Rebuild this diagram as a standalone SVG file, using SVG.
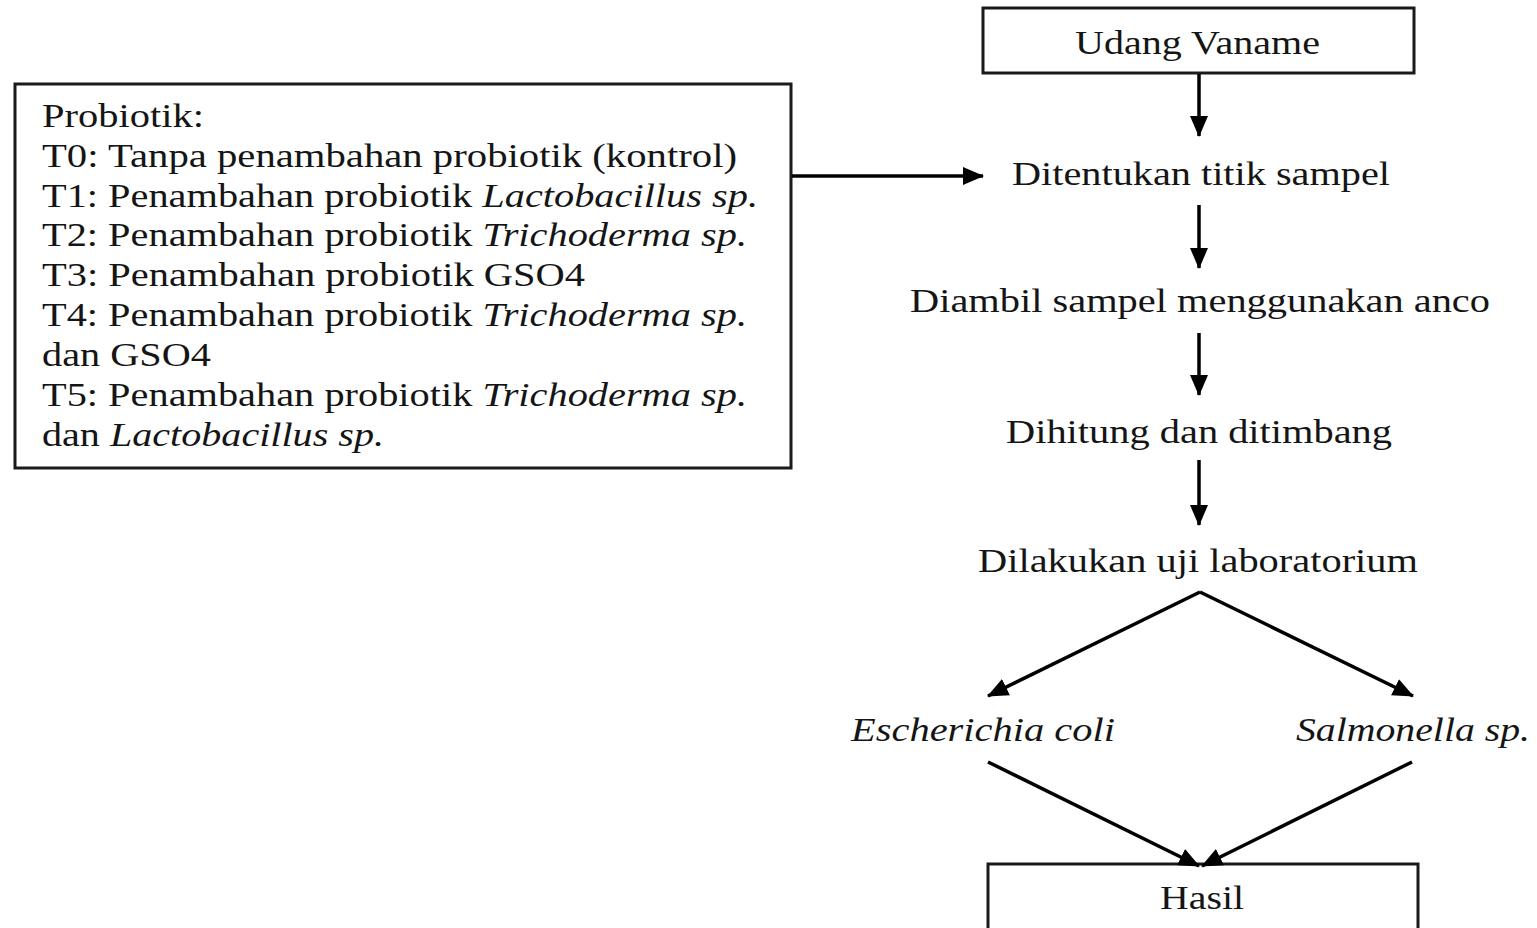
<svg xmlns="http://www.w3.org/2000/svg" width="1537" height="928" viewBox="0 0 1537 928" font-family="Liberation Serif">
<style>
text{font-family:'Liberation Serif',Tinos,Times,serif;font-size:34px;fill:#151515}
.i{font-style:italic}
.box{fill:#fff;stroke:#1a1a1a;stroke-width:3}
.ln{fill:none;stroke:#000;stroke-width:3.5}
</style>
<defs>
<marker id="ah" markerUnits="userSpaceOnUse" markerWidth="22" markerHeight="22" viewBox="0 0 22 22" refX="20" refY="11" orient="auto">
<path d="M0,2 L21,11 L0,20 Z" fill="#000"/>
</marker>
</defs>
<rect width="1537" height="928" fill="#fff"/>
<g id="probiotik">
<rect class="box" x="15" y="84" width="776" height="384"/>
<text x="42" y="127" textLength="162" lengthAdjust="spacingAndGlyphs">Probiotik:</text>
<text x="42" y="167" textLength="695" lengthAdjust="spacingAndGlyphs">T0: Tanpa penambahan probiotik (kontrol)</text>
<text x="42" y="207" textLength="716" lengthAdjust="spacingAndGlyphs">T1: Penambahan probiotik <tspan class="i">Lactobacillus sp.</tspan></text>
<text x="42" y="246" textLength="705" lengthAdjust="spacingAndGlyphs">T2: Penambahan probiotik <tspan class="i">Trichoderma sp.</tspan></text>
<text x="42" y="286" textLength="543" lengthAdjust="spacingAndGlyphs">T3: Penambahan probiotik GSO4</text>
<text x="42" y="326" textLength="705" lengthAdjust="spacingAndGlyphs">T4: Penambahan probiotik <tspan class="i">Trichoderma sp.</tspan></text>
<text x="42" y="366" textLength="169" lengthAdjust="spacingAndGlyphs">dan GSO4</text>
<text x="42" y="406" textLength="705" lengthAdjust="spacingAndGlyphs">T5: Penambahan probiotik <tspan class="i">Trichoderma sp.</tspan></text>
<text x="42" y="446" textLength="342" lengthAdjust="spacingAndGlyphs">dan <tspan class="i">Lactobacillus sp.</tspan></text>
</g>
<g id="udang">
<rect class="box" x="983" y="8" width="431" height="65"/>
<text x="1075" y="54" textLength="245" lengthAdjust="spacingAndGlyphs">Udang Vaname</text>
</g>
<g id="ditentukan"><text x="1012" y="185" textLength="378" lengthAdjust="spacingAndGlyphs">Ditentukan titik sampel</text></g>
<g id="diambil"><text x="910" y="312" textLength="580" lengthAdjust="spacingAndGlyphs">Diambil sampel menggunakan anco</text></g>
<g id="dihitung"><text x="1006" y="443" textLength="386" lengthAdjust="spacingAndGlyphs">Dihitung dan ditimbang</text></g>
<g id="dilakukan"><text x="978" y="572" textLength="440" lengthAdjust="spacingAndGlyphs">Dilakukan uji laboratorium</text></g>
<g id="ecoli"><text class="i" x="851" y="741" textLength="264" lengthAdjust="spacingAndGlyphs">Escherichia coli</text></g>
<g id="salmonella"><text class="i" x="1296" y="741" textLength="234" lengthAdjust="spacingAndGlyphs">Salmonella sp.</text></g>
<g id="hasil">
<rect class="box" x="988" y="864" width="430" height="90"/>
<text x="1160" y="909" textLength="84" lengthAdjust="spacingAndGlyphs">Hasil</text>
</g>
<g id="connectors">
<line class="ln" x1="792" y1="176" x2="983" y2="176" marker-end="url(#ah)"/>
<line class="ln" x1="1199" y1="74" x2="1199" y2="136" marker-end="url(#ah)"/>
<line class="ln" x1="1199" y1="205" x2="1199" y2="268" marker-end="url(#ah)"/>
<line class="ln" x1="1199" y1="333" x2="1199" y2="395" marker-end="url(#ah)"/>
<line class="ln" x1="1199" y1="460" x2="1199" y2="525" marker-end="url(#ah)"/>
<line class="ln" x1="1200" y1="592" x2="988" y2="696" marker-end="url(#ah)"/>
<line class="ln" x1="1200" y1="592" x2="1413" y2="696" marker-end="url(#ah)"/>
<line class="ln" x1="988" y1="762" x2="1199" y2="866" marker-end="url(#ah)"/>
<line class="ln" x1="1412" y1="762" x2="1202" y2="866" marker-end="url(#ah)"/>
</g>
</svg>
